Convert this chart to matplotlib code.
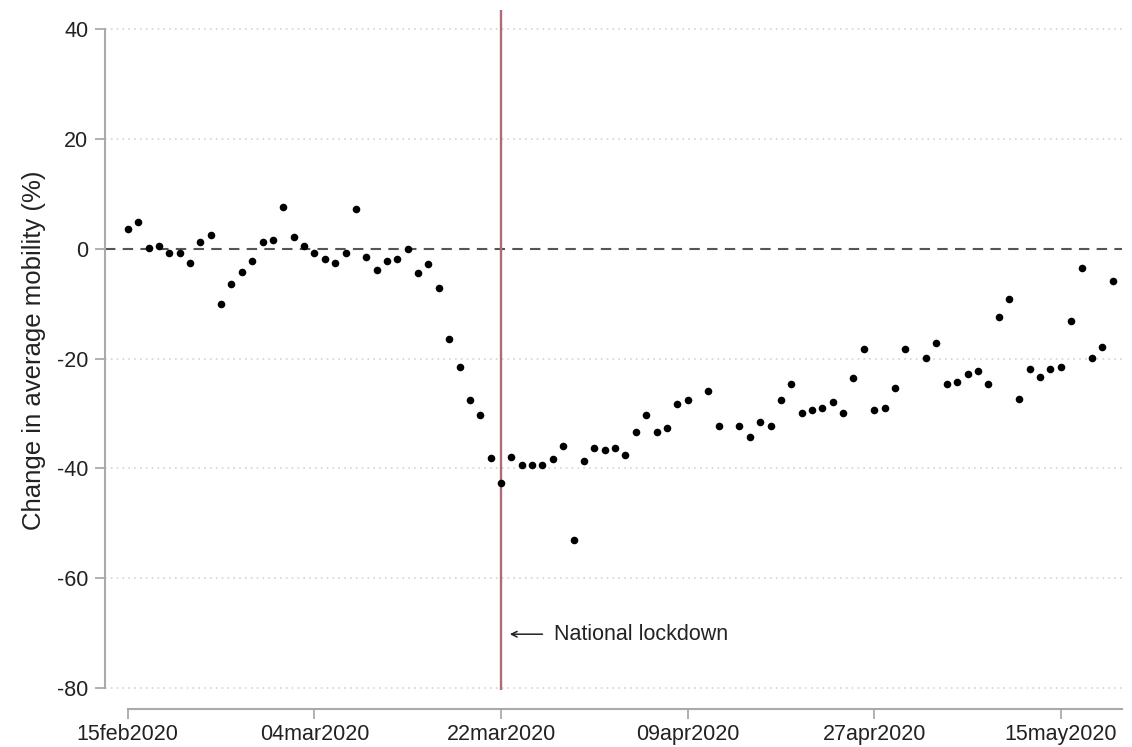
import numpy as np
import pandas as pd
import matplotlib
matplotlib.use("Agg")
import matplotlib.pyplot as plt
import matplotlib.dates as mdates

plt.rcParams['font.family'] = ['Liberation Sans', 'DejaVu Sans']

# daily change in average mobility (%), 15feb2020 .. 20may2020, nan = no obs
dates = pd.date_range('2020-02-15', '2020-05-20', freq='D')
mobility = [
    3.5, 4.9, 0.2, 0.5, -0.85, -0.85, -2.55, 1.2, 2.55, -10.1,
    -6.5, -4.2, -2.2, 1.2, 1.6, 7.5, 2.2, 0.5, -0.8, -1.8,
    -2.55, -0.85, 7.2, -1.45, -3.8, -2.2, -1.8, -0.1, -4.5, -2.8,
    -7.2, -16.5, -21.6, -27.6, -30.2, -38.2, -42.6, -38.0, -39.3, -39.3,
    -39.3, -38.3, -35.9, -53.1, -38.7, -36.3, -36.6, -36.3, -37.6, -33.3,
    -30.3, -33.3, -32.6, -28.3, -27.6, np.nan, -25.9, -32.3, np.nan, -32.3,
    -34.3, -31.6, -32.3, -27.6, -24.6, -29.9, -29.3, -29.0, -27.9, -29.9,
    -23.6, -18.2, -29.3, -29.0, -25.3, -18.2, np.nan, -19.9, -17.2, -24.6,
    -24.3, -22.9, -22.2, -24.6, -12.5, -9.2, -27.3, -21.9, -23.3, -21.9,
    -21.6, -13.2, -3.5, -19.9, -17.9, -5.8,
]

tick_dates = pd.to_datetime(['2020-02-15', '2020-03-04', '2020-03-22',
                             '2020-04-09', '2020-04-27', '2020-05-15'])
tick_labels = ['15feb2020', '04mar2020', '22mar2020',
               '09apr2020', '27apr2020', '15may2020']
y_ticks = [-80, -60, -40, -20, 0, 20, 40]
lockdown = pd.Timestamp('2020-03-22')

W, H = 1132, 747
fig = plt.figure(figsize=(W / 100, H / 100), dpi=100)
ax = fig.add_axes([105 / W, 1 - 690 / H, (1122 - 105) / W, (690 - 10) / H])

x0 = mdates.date2num(dates[0])
xl = mdates.date2num(lockdown)
ax.scatter(dates, mobility, s=30, color='black', zorder=3, linewidths=0)

ax.set_xlim(x0 - 2.2, x0 + 95.9)
ax.set_ylim(-80.36, 43.46)

for yv in [-80, -60, -40, -20, 20, 40]:
    ax.axhline(yv, color='#d4d4d4', lw=1.2, ls=(0, (1, 2.5)), zorder=0)
ax.axhline(0, color='#555555', lw=1.5, ls=(0, (5, 3.5)), zorder=1)
ax.axvline(lockdown, color='#b06a74', lw=1.7, zorder=1)

# label with arrow pointing back to the lockdown line
ax.annotate('', xy=(xl + 0.85, -70.2), xytext=(xl + 4.0, -70.2),
            arrowprops=dict(arrowstyle='->', lw=1.1, color='#222222',
                            shrinkA=0, shrinkB=0))
ax.text(xl + 5.1, -70.3, 'National lockdown',
        fontsize=15.5, va='center', ha='left', color='#222222')

ax.set_xticks(tick_dates)
ax.set_xticklabels(tick_labels)
ax.set_yticks(y_ticks)
ax.set_yticklabels([str(v) for v in y_ticks])
ax.tick_params(axis='both', colors='#aaaaaa', labelcolor='#222222',
               labelsize=15.5, length=7, width=1.3, direction='out')
ax.tick_params(axis='x', pad=4)
ax.tick_params(axis='y', pad=5)

ax.set_ylabel('Change in average mobility (%)', fontsize=18.5, color='#222222', labelpad=8)

for s in ['top', 'right']:
    ax.spines[s].set_visible(False)
ax.spines['left'].set_color('#aaaaaa')
ax.spines['left'].set_linewidth(1.5)
ax.spines['left'].set_bounds(-80, 40)
ax.spines['bottom'].set_color('#aaaaaa')
ax.spines['bottom'].set_linewidth(1.5)
ax.spines['bottom'].set_position(('outward', 19 * 0.72))
ax.spines['bottom'].set_bounds(x0, x0 + 95.9)

fig.savefig('out.png', dpi=100, facecolor='white')
